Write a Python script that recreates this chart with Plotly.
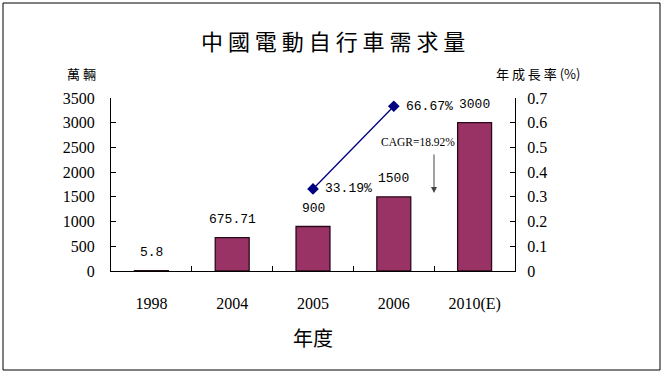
import plotly.graph_objects as go

categories = ["1998", "2004", "2005", "2006", "2010(E)"]
demand = [5.8, 675.71, 900, 1500, 3000]
demand_labels = ["5.8", "675.71", "900", "1500", "3000"]
growth_years = ["2005", "2006"]
growth = [0.3319, 0.6667]
growth_labels = ["33.19%", "66.67%"]
left_ticks = [0, 500, 1000, 1500, 2000, 2500, 3000, 3500]
right_ticks = [0, 0.1, 0.2, 0.3, 0.4, 0.5, 0.6, 0.7]

W, H = 665, 375
L, R, T, B = 111, 515, 98, 271  # plot area pixel bounds


def px(x):
    return (x - L) / (R - L)


def py(y):
    return (B - y) / (B - T)


SERIF = "Liberation Serif, Times New Roman, serif"
CJK = "Noto Sans CJK TC"
MONO = "Liberation Mono, DejaVu Sans Mono, monospace"

fig = go.Figure()
fig.add_trace(go.Bar(
    x=categories, y=demand,
    marker=dict(color="#993366", line=dict(color="#2a0a1a", width=1.3)),
    width=0.42, showlegend=False, hoverinfo="skip",
))
fig.add_trace(go.Scatter(
    x=growth_years, y=growth, yaxis="y2", mode="lines+markers",
    line=dict(color="#000080", width=1.3),
    marker=dict(symbol="diamond", size=9, color="#000080"),
    showlegend=False, hoverinfo="skip",
))

annotations = []
for c, v, t in zip(categories, demand, demand_labels):
    annotations.append(dict(x=categories.index(c), y=v, xref="x", yref="y", text=t,
                            showarrow=False, yanchor="middle", yshift=18,
                            font=dict(family=MONO, size=13, color="#000")))
for c, v, t in zip(growth_years, growth, growth_labels):
    annotations.append(dict(x=categories.index(c), y=v, xref="x", yref="y2", text=t,
                            showarrow=False, xanchor="left", xshift=10, yanchor="middle",
                            font=dict(family=MONO, size=13, color="#000")))

annotations += [
    dict(x=px(333), y=py(40), xref="paper", yref="paper",
         text="中 國 電 動 自 行 車 需 求 量", showarrow=False,
         xanchor="center", yanchor="middle",
         font=dict(family=CJK, size=22, color="#000")),
    dict(x=px(81), y=py(73), xref="paper", yref="paper", text="萬 輛",
         showarrow=False, xanchor="center", yanchor="middle",
         font=dict(family=CJK, size=13, color="#000")),
    dict(x=px(538), y=py(73), xref="paper", yref="paper", text="年 成 長 率 (%)",
         showarrow=False, xanchor="center", yanchor="middle",
         font=dict(family=CJK, size=13, color="#000")),
    dict(x=px(313), y=py(337), xref="paper", yref="paper", text="年度",
         showarrow=False, xanchor="center", yanchor="middle",
         font=dict(family=CJK, size=20, color="#000")),
    dict(x=px(418), y=py(142), xref="paper", yref="paper", text="CAGR=18.92%",
         showarrow=False, xanchor="center", yanchor="middle",
         font=dict(family=SERIF, size=11.5, color="#000")),
    dict(x=px(434), y=py(193), xref="paper", yref="paper", text="",
         showarrow=True, ax=0, ay=-40, arrowhead=2, arrowsize=1.2,
         arrowwidth=1, arrowcolor="#444"),
]

fig.update_layout(
    width=W, height=H,
    margin=dict(l=L, r=W - R, t=T, b=H - B, pad=0),
    paper_bgcolor="white", plot_bgcolor="white",
    xaxis=dict(type="category", categoryorder="array", categoryarray=categories,
               range=[-0.5, 4.5], showline=True, linecolor="#000", linewidth=1,
               ticks="inside", ticklen=5, tickcolor="#000", tickson="boundaries",
               showgrid=False, zeroline=False, ticklabelstandoff=18,
               tickfont=dict(family=SERIF, size=16, color="#000")),
    yaxis=dict(range=[0, 3500], tickvals=left_ticks, tickformat="d",
               showline=True, linecolor="#000", linewidth=1,
               ticks="inside", ticklen=5, tickcolor="#000",
               showgrid=False, zeroline=False, ticklabelstandoff=12,
               tickfont=dict(family=SERIF, size=16, color="#000")),
    yaxis2=dict(range=[0, 0.7], tickvals=right_ticks, overlaying="y", side="right",
                showline=True, linecolor="#000", linewidth=1,
                ticks="inside", ticklen=5, tickcolor="#000",
                showgrid=False, zeroline=False, ticklabelstandoff=8,
                tickfont=dict(family=SERIF, size=16, color="#000")),
    annotations=annotations,
    shapes=[dict(type="rect", xref="paper", yref="paper",
                 x0=px(3), x1=px(660), y0=py(370), y1=py(3),
                 line=dict(color="#000", width=1), fillcolor="rgba(0,0,0,0)")],
)

fig.write_html("out.html", config={"displayModeBar": False},
               post_script="document.body.style.margin='0';")
